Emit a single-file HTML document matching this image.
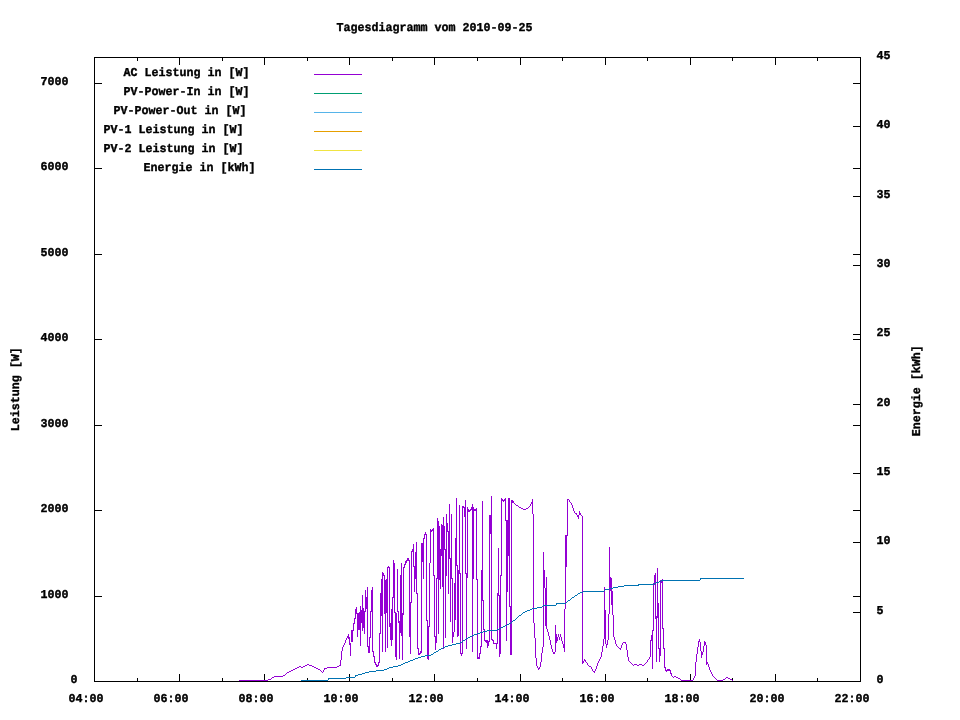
<!DOCTYPE html>
<html lang="de"><head><meta charset="utf-8"><title>Tagesdiagramm vom 2010-09-25</title>
<style>
html,body{margin:0;padding:0;background:#fff;}
body{width:960px;height:720px;overflow:hidden;}
svg{display:block;}
text{font-family:"Liberation Mono", "DejaVu Sans Mono", monospace;font-weight:bold;font-size:12.0px;fill:#000;stroke:#000;stroke-width:0.38px;stroke-linejoin:round;white-space:pre;text-rendering:geometricPrecision;}
</style></head><body>
<svg width="960" height="720" viewBox="0 0 960 720" shape-rendering="crispEdges">
<rect x="0" y="0" width="960" height="720" fill="#fff"/>
<g id="border">
<rect x="94" y="57" width="767" height="1" fill="#000"/>
<rect x="94" y="681" width="767" height="1" fill="#000"/>
<rect x="94" y="57" width="1" height="625" fill="#000"/>
<rect x="860" y="57" width="1" height="625" fill="#000"/>
</g>
<g id="xtics">
<rect x="94" y="674" width="1" height="8" fill="#000"/>
<rect x="94" y="57" width="1" height="8" fill="#000"/>
<text transform="translate(68.6,701.8) scale(0.972,1)">04:00</text>
<rect x="137" y="678" width="1" height="4" fill="#000"/>
<rect x="137" y="57" width="1" height="4" fill="#000"/>
<rect x="179" y="674" width="1" height="8" fill="#000"/>
<rect x="179" y="57" width="1" height="8" fill="#000"/>
<text transform="translate(153.6,701.8) scale(0.972,1)">06:00</text>
<rect x="222" y="678" width="1" height="4" fill="#000"/>
<rect x="222" y="57" width="1" height="4" fill="#000"/>
<rect x="264" y="674" width="1" height="8" fill="#000"/>
<rect x="264" y="57" width="1" height="8" fill="#000"/>
<text transform="translate(238.6,701.8) scale(0.972,1)">08:00</text>
<rect x="307" y="678" width="1" height="4" fill="#000"/>
<rect x="307" y="57" width="1" height="4" fill="#000"/>
<rect x="349" y="674" width="1" height="8" fill="#000"/>
<rect x="349" y="57" width="1" height="8" fill="#000"/>
<text transform="translate(323.6,701.8) scale(0.972,1)">10:00</text>
<rect x="392" y="678" width="1" height="4" fill="#000"/>
<rect x="392" y="57" width="1" height="4" fill="#000"/>
<rect x="434" y="674" width="1" height="8" fill="#000"/>
<rect x="434" y="57" width="1" height="8" fill="#000"/>
<text transform="translate(408.6,701.8) scale(0.972,1)">12:00</text>
<rect x="477" y="678" width="1" height="4" fill="#000"/>
<rect x="477" y="57" width="1" height="4" fill="#000"/>
<rect x="520" y="674" width="1" height="8" fill="#000"/>
<rect x="520" y="57" width="1" height="8" fill="#000"/>
<text transform="translate(494.6,701.8) scale(0.972,1)">14:00</text>
<rect x="562" y="678" width="1" height="4" fill="#000"/>
<rect x="562" y="57" width="1" height="4" fill="#000"/>
<rect x="605" y="674" width="1" height="8" fill="#000"/>
<rect x="605" y="57" width="1" height="8" fill="#000"/>
<text transform="translate(579.6,701.8) scale(0.972,1)">16:00</text>
<rect x="647" y="678" width="1" height="4" fill="#000"/>
<rect x="647" y="57" width="1" height="4" fill="#000"/>
<rect x="690" y="674" width="1" height="8" fill="#000"/>
<rect x="690" y="57" width="1" height="8" fill="#000"/>
<text transform="translate(664.6,701.8) scale(0.972,1)">18:00</text>
<rect x="732" y="678" width="1" height="4" fill="#000"/>
<rect x="732" y="57" width="1" height="4" fill="#000"/>
<rect x="775" y="674" width="1" height="8" fill="#000"/>
<rect x="775" y="57" width="1" height="8" fill="#000"/>
<text transform="translate(749.6,701.8) scale(0.972,1)">20:00</text>
<rect x="817" y="678" width="1" height="4" fill="#000"/>
<rect x="817" y="57" width="1" height="4" fill="#000"/>
<rect x="860" y="674" width="1" height="8" fill="#000"/>
<rect x="860" y="57" width="1" height="8" fill="#000"/>
<text transform="translate(834.6,701.8) scale(0.972,1)">22:00</text>
</g>
<g id="ytics">
<rect x="94" y="681" width="8" height="1" fill="#000"/>
<rect x="853" y="681" width="8" height="1" fill="#000"/>
<text transform="translate(70.6,682.8) scale(0.972,1)">0</text>
<rect x="94" y="596" width="8" height="1" fill="#000"/>
<rect x="853" y="596" width="8" height="1" fill="#000"/>
<text transform="translate(40.6,597.8) scale(0.972,1)">1000</text>
<rect x="94" y="510" width="8" height="1" fill="#000"/>
<rect x="853" y="510" width="8" height="1" fill="#000"/>
<text transform="translate(40.6,511.8) scale(0.972,1)">2000</text>
<rect x="94" y="425" width="8" height="1" fill="#000"/>
<rect x="853" y="425" width="8" height="1" fill="#000"/>
<text transform="translate(40.6,426.8) scale(0.972,1)">3000</text>
<rect x="94" y="339" width="8" height="1" fill="#000"/>
<rect x="853" y="339" width="8" height="1" fill="#000"/>
<text transform="translate(40.6,340.8) scale(0.972,1)">4000</text>
<rect x="94" y="254" width="8" height="1" fill="#000"/>
<rect x="853" y="254" width="8" height="1" fill="#000"/>
<text transform="translate(40.6,255.8) scale(0.972,1)">5000</text>
<rect x="94" y="168" width="8" height="1" fill="#000"/>
<rect x="853" y="168" width="8" height="1" fill="#000"/>
<text transform="translate(40.6,169.8) scale(0.972,1)">6000</text>
<rect x="94" y="83" width="8" height="1" fill="#000"/>
<rect x="853" y="83" width="8" height="1" fill="#000"/>
<text transform="translate(40.6,84.8) scale(0.972,1)">7000</text>
</g>
<g id="y2tics">
<rect x="853" y="681" width="8" height="1" fill="#000"/>
<text transform="translate(876.6,682.8) scale(0.972,1)">0</text>
<rect x="853" y="612" width="8" height="1" fill="#000"/>
<text transform="translate(876.6,613.8) scale(0.972,1)">5</text>
<rect x="853" y="542" width="8" height="1" fill="#000"/>
<text transform="translate(876.6,543.8) scale(0.972,1)">10</text>
<rect x="853" y="473" width="8" height="1" fill="#000"/>
<text transform="translate(876.6,474.8) scale(0.972,1)">15</text>
<rect x="853" y="404" width="8" height="1" fill="#000"/>
<text transform="translate(876.6,405.8) scale(0.972,1)">20</text>
<rect x="853" y="334" width="8" height="1" fill="#000"/>
<text transform="translate(876.6,335.8) scale(0.972,1)">25</text>
<rect x="853" y="265" width="8" height="1" fill="#000"/>
<text transform="translate(876.6,266.8) scale(0.972,1)">30</text>
<rect x="853" y="196" width="8" height="1" fill="#000"/>
<text transform="translate(876.6,197.8) scale(0.972,1)">35</text>
<rect x="853" y="126" width="8" height="1" fill="#000"/>
<text transform="translate(876.6,127.8) scale(0.972,1)">40</text>
<rect x="853" y="57" width="8" height="1" fill="#000"/>
<text transform="translate(876.6,58.8) scale(0.972,1)">45</text>
</g>
<g id="labels">
<text transform="translate(336.6,30.8) scale(0.972,1)">Tagesdiagramm vom 2010-09-25</text>
<text transform="translate(18.8,431.3) rotate(-90) scale(0.972,1)">Leistung [W]</text>
<text transform="translate(919.8,436.3) rotate(-90) scale(0.972,1)">Energie [kWh]</text>
</g>
<g id="key">
<text transform="translate(123.6,75.8) scale(0.972,1)">AC Leistung in [W]</text>
<rect x="314" y="74" width="48" height="1" fill="#9400d3"/>
<text transform="translate(123.6,94.8) scale(0.972,1)">PV-Power-In in [W]</text>
<rect x="314" y="93" width="48" height="1" fill="#009e73"/>
<text transform="translate(113.6,113.8) scale(0.972,1)">PV-Power-Out in [W]</text>
<rect x="314" y="112" width="48" height="1" fill="#56b4e9"/>
<text transform="translate(103.6,132.8) scale(0.972,1)">PV-1 Leistung in [W]</text>
<rect x="314" y="131" width="48" height="1" fill="#e69f00"/>
<text transform="translate(103.6,151.8) scale(0.972,1)">PV-2 Leistung in [W]</text>
<rect x="314" y="150" width="48" height="1" fill="#f0e442"/>
<text transform="translate(143.6,170.8) scale(0.972,1)">Energie in [kWh]</text>
<rect x="314" y="169" width="48" height="1" fill="#0072b2"/>
</g>
<g id="data">
<path fill="#9400d3" d="M239 680h1v1h-1zM240 680h1v1h-1zM241 680h1v1h-1zM242 680h1v1h-1zM243 680h1v1h-1zM244 680h1v1h-1zM245 680h1v1h-1zM246 680h1v1h-1zM247 680h1v1h-1zM248 680h1v1h-1zM249 680h1v1h-1zM250 680h1v1h-1zM251 680h1v1h-1zM252 680h1v1h-1zM253 680h1v1h-1zM254 680h1v1h-1zM255 680h1v1h-1zM256 680h1v1h-1zM257 680h1v1h-1zM258 680h1v1h-1zM259 680h1v1h-1zM260 680h1v1h-1zM261 680h1v1h-1zM262 680h1v1h-1zM263 680h1v1h-1zM264 680h1v1h-1zM265 680h1v1h-1zM266 680h1v1h-1zM267 680h1v1h-1zM268 679h1v1h-1zM269 679h1v1h-1zM270 679h1v1h-1zM271 678h1v1h-1zM272 677h1v1h-1zM273 677h1v1h-1zM274 676h1v1h-1zM275 676h1v1h-1zM276 676h1v1h-1zM277 676h1v1h-1zM278 676h1v1h-1zM279 676h1v1h-1zM280 676h1v1h-1zM281 676h1v1h-1zM282 676h1v1h-1zM283 675h1v1h-1zM284 675h1v1h-1zM285 674h1v1h-1zM286 673h1v1h-1zM287 672h1v1h-1zM288 672h1v1h-1zM289 671h1v1h-1zM290 671h1v1h-1zM291 670h1v1h-1zM292 670h1v1h-1zM293 669h1v1h-1zM294 669h1v1h-1zM295 668h1v1h-1zM296 668h1v1h-1zM297 667h1v1h-1zM298 667h1v1h-1zM299 666h1v1h-1zM300 666h1v1h-1zM301 667h1v1h-1zM302 667h1v1h-1zM303 666h1v1h-1zM304 666h1v1h-1zM305 665h1v1h-1zM306 665h1v1h-1zM307 664h1v1h-1zM308 664h1v1h-1zM309 665h1v1h-1zM310 665h1v1h-1zM311 665h1v1h-1zM312 666h1v1h-1zM313 666h1v1h-1zM314 667h1v1h-1zM315 667h1v1h-1zM316 668h1v1h-1zM317 668h1v1h-1zM318 669h1v1h-1zM319 669h1v1h-1zM320 670h1v1h-1zM321 671h1v1h-1zM322 672h1v1h-1zM323 670h1v2h-1zM324 668h1v2h-1zM325 668h1v1h-1zM326 668h1v1h-1zM327 667h1v1h-1zM328 667h1v1h-1zM329 667h1v1h-1zM330 667h1v1h-1zM331 667h1v1h-1zM332 667h1v1h-1zM333 667h1v1h-1zM334 667h1v1h-1zM335 667h1v1h-1zM336 667h1v1h-1zM337 666h1v1h-1zM338 666h1v1h-1zM339 665h1v1h-1zM340 660h1v6h-1zM341 651h1v9h-1zM342 647h1v4h-1zM343 645h1v2h-1zM344 643h1v2h-1zM345 640h1v3h-1zM346 638h1v2h-1zM347 636h1v2h-1zM348 634h1v5h-1zM349 637h1v8h-1zM350 643h1v13h-1zM351 630h1v12h-1zM352 630h1v12h-1zM353 623h1v8h-1zM354 618h1v6h-1zM355 609h1v10h-1zM356 607h1v7h-1zM357 613h1v24h-1zM358 613h1v17h-1zM359 612h1v18h-1zM360 606h1v40h-1zM361 610h1v13h-1zM362 595h1v36h-1zM363 608h1v20h-1zM364 611h1v23h-1zM365 590h1v22h-1zM366 597h1v12h-1zM367 587h1v60h-1zM368 646h1v7h-1zM369 637h1v16h-1zM370 611h1v27h-1zM371 590h1v22h-1zM372 587h1v65h-1zM373 651h1v6h-1zM374 656h1v7h-1zM375 662h1v3h-1zM376 664h1v3h-1zM377 665h1v2h-1zM378 662h1v4h-1zM379 633h1v30h-1zM380 593h1v41h-1zM381 579h1v37h-1zM382 572h1v80h-1zM383 573h1v3h-1zM384 575h1v39h-1zM385 580h1v72h-1zM386 579h1v34h-1zM387 567h1v81h-1zM388 566h1v2h-1zM389 567h1v60h-1zM390 623h1v17h-1zM391 609h1v37h-1zM392 597h1v43h-1zM393 560h1v38h-1zM394 563h1v50h-1zM395 612h1v45h-1zM396 613h1v47h-1zM397 569h1v43h-1zM398 611h1v12h-1zM399 621h1v38h-1zM400 575h1v58h-1zM401 563h1v73h-1zM402 613h1v47h-1zM403 567h1v48h-1zM404 564h1v4h-1zM405 561h1v4h-1zM406 560h1v3h-1zM407 558h1v3h-1zM408 558h1v3h-1zM409 560h1v77h-1zM410 602h1v52h-1zM411 551h1v52h-1zM412 549h1v3h-1zM413 544h1v23h-1zM414 566h1v26h-1zM415 552h1v27h-1zM416 542h1v52h-1zM417 593h1v56h-1zM418 648h1v7h-1zM419 653h1v2h-1zM420 651h1v3h-1zM421 543h1v110h-1zM422 543h1v19h-1zM423 538h1v41h-1zM424 534h1v5h-1zM425 532h1v3h-1zM426 534h1v87h-1zM427 620h1v39h-1zM428 626h1v34h-1zM429 563h1v64h-1zM430 529h1v34h-1zM431 530h1v2h-1zM432 529h1v2h-1zM433 528h1v48h-1zM434 575h1v62h-1zM435 636h1v14h-1zM436 578h1v65h-1zM437 518h1v61h-1zM438 521h1v113h-1zM439 526h1v54h-1zM440 549h1v40h-1zM441 524h1v32h-1zM442 525h1v62h-1zM443 517h1v132h-1zM444 526h1v24h-1zM445 549h1v89h-1zM446 514h1v62h-1zM447 523h1v9h-1zM448 531h1v63h-1zM449 504h1v55h-1zM450 558h1v64h-1zM451 514h1v65h-1zM452 578h1v65h-1zM453 632h1v5h-1zM454 583h1v49h-1zM455 538h1v82h-1zM456 498h1v68h-1zM457 565h1v72h-1zM458 570h1v66h-1zM459 505h1v69h-1zM460 573h1v81h-1zM461 653h1v3h-1zM462 506h1v148h-1zM463 506h1v2h-1zM464 507h1v10h-1zM465 500h1v74h-1zM466 573h1v76h-1zM467 507h1v71h-1zM468 509h1v3h-1zM469 510h1v2h-1zM470 509h1v2h-1zM471 507h1v3h-1zM472 504h1v148h-1zM473 507h1v72h-1zM474 509h1v2h-1zM475 509h1v2h-1zM476 508h1v72h-1zM477 579h1v80h-1zM478 657h1v2h-1zM479 653h1v6h-1zM480 646h1v8h-1zM481 570h1v77h-1zM482 501h1v100h-1zM483 600h1v30h-1zM484 629h1v12h-1zM485 640h1v2h-1zM486 640h1v3h-1zM487 640h1v8h-1zM488 641h1v5h-1zM489 515h1v127h-1zM490 515h1v19h-1zM491 496h1v144h-1zM492 639h1v2h-1zM493 640h1v4h-1zM494 643h1v1h-1zM495 643h1v1h-1zM496 643h1v6h-1zM497 593h1v51h-1zM498 548h1v48h-1zM499 595h1v62h-1zM500 575h1v79h-1zM501 498h1v78h-1zM502 499h1v2h-1zM503 500h1v2h-1zM504 499h1v2h-1zM505 498h1v23h-1zM506 520h1v121h-1zM507 520h1v72h-1zM508 498h1v58h-1zM509 498h1v109h-1zM510 606h1v49h-1zM511 500h1v155h-1zM512 500h1v3h-1zM513 501h1v2h-1zM514 503h1v1h-1zM515 504h1v1h-1zM516 505h1v1h-1zM517 505h1v1h-1zM518 506h1v1h-1zM519 507h1v1h-1zM520 507h1v1h-1zM521 508h1v1h-1zM522 508h1v1h-1zM523 509h1v1h-1zM524 509h1v1h-1zM525 509h1v1h-1zM526 508h1v1h-1zM527 508h1v1h-1zM528 507h1v1h-1zM529 506h1v1h-1zM530 504h1v2h-1zM531 502h1v2h-1zM532 499h1v15h-1zM533 514h1v109h-1zM534 623h1v15h-1zM535 638h1v20h-1zM536 658h1v8h-1zM537 666h1v2h-1zM538 668h1v2h-1zM539 667h1v2h-1zM540 662h1v5h-1zM541 653h1v9h-1zM542 647h1v6h-1zM543 552h1v95h-1zM544 570h1v18h-1zM545 588h1v38h-1zM546 577h1v52h-1zM547 629h1v3h-1zM548 632h1v4h-1zM549 636h1v4h-1zM550 640h1v5h-1zM551 645h1v4h-1zM552 649h1v3h-1zM553 652h1v2h-1zM554 652h1v2h-1zM555 625h1v27h-1zM556 634h1v9h-1zM557 637h1v4h-1zM558 634h1v3h-1zM559 637h1v3h-1zM560 634h1v3h-1zM561 637h1v4h-1zM562 641h1v3h-1zM563 644h1v4h-1zM564 609h1v43h-1zM565 535h1v74h-1zM566 535h1v32h-1zM567 499h1v37h-1zM568 499h1v1h-1zM569 500h1v2h-1zM570 502h1v1h-1zM571 503h1v2h-1zM572 505h1v3h-1zM573 508h1v3h-1zM574 511h1v2h-1zM575 513h1v1h-1zM576 513h1v2h-1zM577 515h1v2h-1zM578 515h1v4h-1zM579 511h1v4h-1zM580 513h1v2h-1zM581 515h1v1h-1zM582 516h1v148h-1zM583 661h1v2h-1zM584 659h1v2h-1zM585 660h1v2h-1zM586 662h1v1h-1zM587 663h1v2h-1zM588 665h1v1h-1zM589 666h1v1h-1zM590 666h1v1h-1zM591 667h1v2h-1zM592 669h1v2h-1zM593 671h1v1h-1zM594 671h1v2h-1zM595 669h1v2h-1zM596 666h1v3h-1zM597 663h1v3h-1zM598 661h1v2h-1zM599 659h1v2h-1zM600 657h1v2h-1zM601 652h1v5h-1zM602 646h1v6h-1zM603 639h1v7h-1zM604 587h1v52h-1zM605 610h1v34h-1zM606 644h1v4h-1zM607 640h1v5h-1zM608 614h1v26h-1zM609 547h1v67h-1zM610 577h1v14h-1zM611 578h1v27h-1zM612 591h1v24h-1zM613 615h1v22h-1zM614 637h1v3h-1zM615 640h1v4h-1zM616 644h1v2h-1zM617 646h1v1h-1zM618 647h1v1h-1zM619 648h1v1h-1zM620 648h1v2h-1zM621 645h1v3h-1zM622 643h1v2h-1zM623 642h1v1h-1zM624 642h1v1h-1zM625 642h1v2h-1zM626 644h1v6h-1zM627 650h1v7h-1zM628 657h1v4h-1zM629 661h1v1h-1zM630 662h1v1h-1zM631 663h1v1h-1zM632 664h1v1h-1zM633 665h1v1h-1zM634 664h1v1h-1zM635 664h1v1h-1zM636 664h1v1h-1zM637 665h1v1h-1zM638 665h1v1h-1zM639 664h1v1h-1zM640 664h1v1h-1zM641 664h1v1h-1zM642 665h1v1h-1zM643 665h1v1h-1zM644 664h1v1h-1zM645 663h1v1h-1zM646 662h1v1h-1zM647 660h1v2h-1zM648 659h1v1h-1zM649 657h1v2h-1zM650 640h1v17h-1zM651 635h1v6h-1zM652 630h1v39h-1zM653 583h1v48h-1zM654 575h1v10h-1zM655 573h1v46h-1zM656 616h1v46h-1zM657 568h1v50h-1zM658 603h1v46h-1zM659 648h1v14h-1zM660 580h1v76h-1zM661 581h1v2h-1zM662 579h1v50h-1zM663 628h1v21h-1zM664 648h1v20h-1zM665 667h1v4h-1zM666 670h1v2h-1zM667 669h1v2h-1zM668 669h1v2h-1zM669 669h1v2h-1zM670 670h1v4h-1zM671 673h1v3h-1zM672 676h1v1h-1zM673 677h1v1h-1zM674 676h1v1h-1zM675 676h1v1h-1zM676 677h1v1h-1zM677 677h1v1h-1zM678 678h1v1h-1zM679 678h1v1h-1zM680 679h1v1h-1zM681 680h1v1h-1zM682 680h1v1h-1zM683 680h1v1h-1zM684 680h1v1h-1zM685 680h1v1h-1zM686 680h1v1h-1zM687 680h1v1h-1zM688 680h1v1h-1zM689 680h1v1h-1zM690 680h1v1h-1zM691 680h1v1h-1zM692 680h1v1h-1zM693 678h1v2h-1zM694 676h1v2h-1zM695 662h1v14h-1zM696 654h1v8h-1zM697 647h1v7h-1zM698 641h1v6h-1zM699 639h1v3h-1zM700 642h1v9h-1zM701 651h1v7h-1zM702 652h1v3h-1zM703 646h1v6h-1zM704 641h1v5h-1zM705 642h1v3h-1zM706 645h1v20h-1zM707 662h1v2h-1zM708 664h1v3h-1zM709 667h1v3h-1zM710 670h1v2h-1zM711 672h1v2h-1zM712 674h1v2h-1zM713 676h1v1h-1zM714 677h1v1h-1zM715 678h1v1h-1zM716 679h1v1h-1zM717 680h1v1h-1zM718 680h1v1h-1zM719 680h1v1h-1zM720 680h1v1h-1zM721 680h1v1h-1zM722 680h1v1h-1zM723 679h1v1h-1zM724 679h1v1h-1zM725 678h1v1h-1zM726 677h1v1h-1zM727 677h1v1h-1zM728 678h1v1h-1zM729 678h1v1h-1zM730 679h1v1h-1zM731 679h1v1h-1zM732 680h1v1h-1z"/>
<path fill="#0072b2" d="M700 578h44v1h-44zM700 579h1v1h-1zM661 580h39v1h-39zM659 581h2v1h-2zM656 582h3v1h-3zM654 583h2v1h-2zM638 584h16v1h-16zM624 585h15v1h-15zM618 586h6v1h-6zM613 587h5v1h-5zM609 588h4v1h-4zM605 589h4v1h-4zM604 590h1v1h-1zM583 591h21v1h-21zM580 592h3v1h-3zM578 593h2v1h-2zM577 594h1v1h-1zM575 595h2v1h-2zM574 596h1v1h-1zM572 597h2v1h-2zM571 598h1v1h-1zM570 599h1v1h-1zM568 600h2v1h-2zM567 601h1v1h-1zM566 602h1v1h-1zM556 603h10v1h-10zM556 604h1v1h-1zM543 605h13v1h-13zM542 606h1v1h-1zM537 607h5v1h-5zM532 608h5v1h-5zM530 609h2v1h-2zM527 610h3v1h-3zM525 611h2v1h-2zM523 612h2v1h-2zM522 613h1v1h-1zM521 614h1v1h-1zM519 615h2v1h-2zM518 616h1v1h-1zM517 617h1v1h-1zM516 618h1v1h-1zM515 619h1v1h-1zM513 620h2v1h-2zM512 621h1v1h-1zM511 622h1v1h-1zM509 623h2v1h-2zM507 624h2v1h-2zM505 625h2v1h-2zM503 626h2v1h-2zM501 627h2v1h-2zM499 628h2v1h-2zM497 629h2v1h-2zM487 630h10v1h-10zM483 631h4v1h-4zM480 632h3v1h-3zM477 633h3v1h-3zM474 634h3v1h-3zM472 635h2v1h-2zM470 636h2v1h-2zM468 637h2v1h-2zM466 638h2v1h-2zM465 639h1v1h-1zM463 640h2v1h-2zM462 641h1v1h-1zM460 642h2v1h-2zM456 643h4v1h-4zM452 644h4v1h-4zM448 645h4v1h-4zM445 646h3v1h-3zM443 647h2v1h-2zM441 648h2v1h-2zM439 649h2v1h-2zM438 650h1v1h-1zM436 651h2v1h-2zM434 652h2v1h-2zM433 653h1v1h-1zM431 654h2v1h-2zM425 655h6v1h-6zM421 656h4v1h-4zM418 657h3v1h-3zM415 658h3v1h-3zM413 659h2v1h-2zM410 660h3v1h-3zM408 661h2v1h-2zM405 662h3v1h-3zM403 663h2v1h-2zM401 664h2v1h-2zM398 665h3v1h-3zM393 666h5v1h-5zM389 667h4v1h-4zM387 668h2v1h-2zM384 669h3v1h-3zM376 670h8v1h-8zM369 671h7v1h-7zM365 672h4v1h-4zM362 673h3v1h-3zM358 674h4v1h-4zM355 675h3v1h-3zM355 676h1v1h-1zM346 677h9v1h-9zM328 678h18v1h-18zM328 679h1v1h-1zM301 680h27v1h-27z"/>
</g>
</svg></body></html>
